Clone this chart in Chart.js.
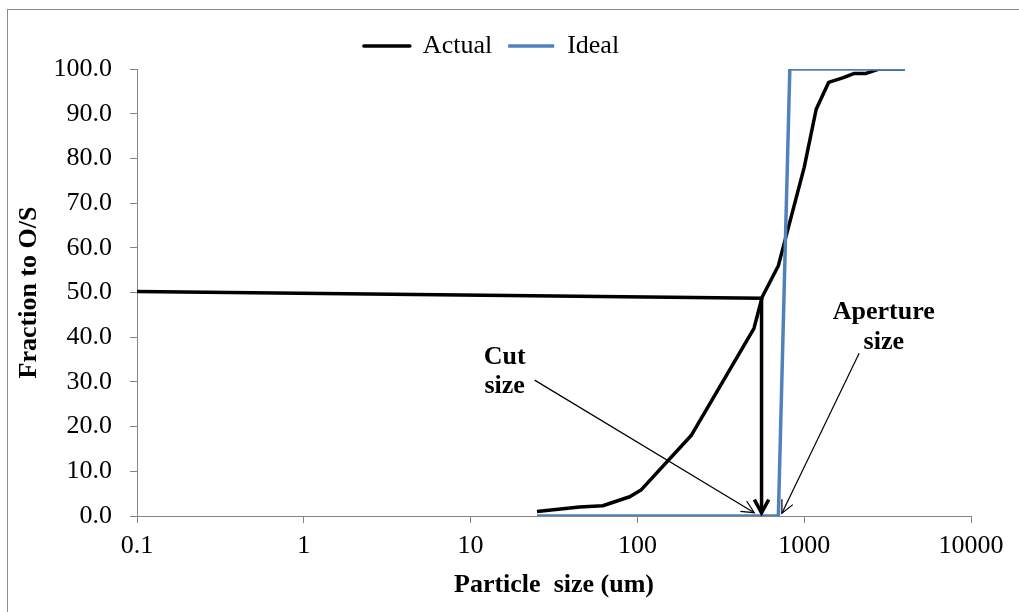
<!DOCTYPE html>
<html>
<head>
<meta charset="utf-8">
<script src="https://cdn.jsdelivr.net/npm/chart.js@4.4.1/dist/chart.umd.min.js"></script>
<style>
  html, body { margin: 0; padding: 0; background: #fff; }
  #wrap { position: relative; width: 1019px; height: 612px; overflow: hidden; }
  #frame { position: absolute; left: 7px; top: 9px; width: 1030px; height: 620px; border: 1.5px solid #8c8c8c; }
  canvas { position: absolute; left: 0; top: 0; }
</style>
</head>
<body>
<div id="wrap">
  <div id="frame"></div>
  <canvas id="grafico" width="1019" height="612"></canvas>
</div>
<script>
// --- DADOS ---
const particleSizes = [25, 45, 62, 90, 105, 210, 500, 560, 700, 1000, 1180, 1400, 1700, 2000, 2350, 2800, 4000];
const actualFraction = [1.0, 2.0, 2.3, 4.3, 5.8, 18.0, 42.0, 49.0, 56.0, 78.0, 91.0, 97.0, 98.0, 99.0, 99.0, 100.0, 100.0];

const idealSizes = [25, 700, 820, 4000];
const idealFraction = [0, 0, 100, 100];

// linha do "cut size" (50% -> desce ate o eixo)
const cutSizes = [0.1, 555, 555];
const cutFraction = [50.2, 48.7, 0.7];

const xTicks = [0.1, 1, 10, 100, 1000, 10000];

// anotacoes (em coordenadas dos dados)
const notas = [
    { linhas: ['Cut', 'size'], x: 16, y: [33.9, 27.6] },
    { linhas: ['Aperture', 'size'], x: 3000, y: [44.0, 37.3] }
];
const setas = [
    { de: [24.2, 30.4], para: [502, 0.74] },
    { de: [2135, 36.4], para: [735, 0.6] }
];

const FONTE = '"Liberation Serif", "Times New Roman", serif';
const CINZA = '#868686';

function pares(xs, ys) {
    return xs.map((x, i) => ({ x: x, y: ys[i] }));
}

function desenharV(ctx, x0, y0, x1, y1, tam, ang) {
    const a = Math.atan2(y1 - y0, x1 - x0);
    ctx.beginPath();
    ctx.moveTo(x1 - tam * Math.cos(a - ang), y1 - tam * Math.sin(a - ang));
    ctx.lineTo(x1, y1);
    ctx.lineTo(x1 - tam * Math.cos(a + ang), y1 - tam * Math.sin(a + ang));
    ctx.stroke();
}

const pluginAnotacoes = {
    id: 'anotacoes',
    afterDatasetsDraw(chart) {
        const ctx = chart.ctx;
        const sx = chart.scales.x, sy = chart.scales.y;
        ctx.save();
        ctx.strokeStyle = '#000';
        ctx.lineJoin = 'miter';

        // setas finas
        ctx.lineWidth = 1.2;
        setas.forEach(s => {
            const x0 = sx.getPixelForValue(s.de[0]), y0 = sy.getPixelForValue(s.de[1]);
            const x1 = sx.getPixelForValue(s.para[0]), y1 = sy.getPixelForValue(s.para[1]);
            ctx.beginPath();
            ctx.moveTo(x0, y0);
            ctx.lineTo(x1, y1);
            ctx.stroke();
            desenharV(ctx, x0, y0, x1, y1, 14, 0.45);
        });

        // ponta da seta grossa do cut size
        ctx.lineWidth = 3.5;
        const n = cutSizes.length;
        const ax0 = sx.getPixelForValue(cutSizes[n - 2]), ay0 = sy.getPixelForValue(cutFraction[n - 2]);
        const ax1 = sx.getPixelForValue(cutSizes[n - 1]), ay1 = sy.getPixelForValue(cutFraction[n - 1]);
        desenharV(ctx, ax0, ay0, ax1, ay1, 15, 0.5);

        // textos
        ctx.fillStyle = '#000';
        ctx.font = 'bold 26px ' + FONTE;
        ctx.textAlign = 'center';
        ctx.textBaseline = 'alphabetic';
        notas.forEach(nt => {
            const px = sx.getPixelForValue(nt.x);
            nt.linhas.forEach((txt, i) => {
                ctx.fillText(txt, px, sy.getPixelForValue(nt.y[i]));
            });
        });
        ctx.restore();
    }
};

const ctx = document.getElementById('grafico').getContext('2d');
new Chart(ctx, {
    type: 'line',
    data: {
        datasets: [
            {
                label: 'Actual', data: pares(particleSizes, actualFraction),
                borderColor: '#000', backgroundColor: '#000', borderWidth: 3.5,
                pointRadius: 0, tension: 0, order: 1, borderJoinStyle: 'round'
            },
            {
                label: 'Ideal', data: pares(idealSizes, idealFraction),
                borderColor: '#4F81BD', backgroundColor: '#4F81BD', borderWidth: 3.5,
                pointRadius: 0, tension: 0, order: 0
            },
            {
                label: 'cut', data: pares(cutSizes, cutFraction),
                borderColor: '#000', backgroundColor: '#000', borderWidth: 3.5,
                pointRadius: 0, tension: 0, order: 2, borderJoinStyle: 'miter'
            }
        ]
    },
    options: {
        responsive: false,
        animation: false,
        layout: { padding: { top: 17, left: 12, right: 48, bottom: 10 } },
        plugins: {
            tooltip: { enabled: false },
            legend: {
                position: 'top',
                maxHeight: 60,
                labels: {
                    filter: item => item.text !== 'cut',
                    sort: (a, b) => a.datasetIndex - b.datasetIndex,
                    boxWidth: 46, boxHeight: 0, padding: 16,
                    color: '#000',
                    font: { family: FONTE, size: 26 }
                }
            }
        },
        scales: {
            x: {
                type: 'logarithmic', min: 0.1, max: 10000,
                afterBuildTicks: s => { s.ticks = xTicks.map(v => ({ value: v })); },
                afterFit: s => { s.height = 86; },
                ticks: {
                    color: '#000', padding: 8, maxRotation: 0, autoSkip: false,
                    font: { family: FONTE, size: 26 },
                    callback: v => String(v)
                },
                grid: { drawOnChartArea: false, drawTicks: true, tickLength: 7, color: CINZA },
                border: { color: CINZA, width: 1 },
                title: {
                    display: true, text: 'Particle  size (um)', color: '#000',
                    font: { family: FONTE, size: 26, weight: 'bold' },
                    padding: { top: 0, bottom: 1 }
                }
            },
            y: {
                min: 0, max: 100,
                afterFit: s => { s.width = 125; },
                ticks: {
                    stepSize: 10, color: '#000', padding: 18,
                    font: { family: FONTE, size: 26 },
                    callback: v => v.toFixed(1)
                },
                grid: { drawOnChartArea: false, drawTicks: true, tickLength: 7, color: CINZA },
                border: { color: CINZA, width: 1 },
                title: {
                    display: true, text: 'Fraction to O/S', color: '#000',
                    font: { family: FONTE, size: 26, weight: 'bold' },
                    padding: { top: 2, bottom: 0 }
                }
            }
        }
    },
    plugins: [pluginAnotacoes]
});
</script>
</body>
</html>
